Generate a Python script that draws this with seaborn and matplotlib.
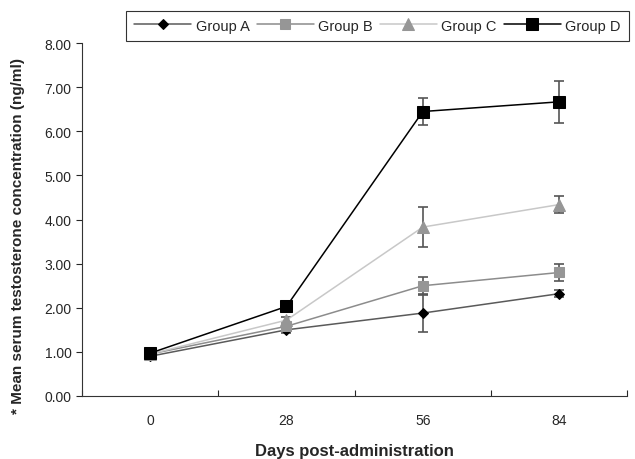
import matplotlib

matplotlib.use("Agg")
import matplotlib.pyplot as plt
import numpy as np
import pandas as pd
import seaborn as sns

days = ["0", "28", "56", "84"]
groups = ["Group A", "Group B", "Group C", "Group D"]

group_a = [0.90, 1.50, 1.88, 2.32]
group_b = [0.95, 1.58, 2.50, 2.80]
group_c = [0.95, 1.72, 3.83, 4.34]
group_d = [0.97, 2.03, 6.45, 6.67]

err_a = [0.05, 0.08, 0.44, 0.08]
err_b = [0.05, 0.06, 0.20, 0.19]
err_c = [0.05, 0.06, 0.46, 0.20]
err_d = [0.05, 0.05, 0.30, 0.48]


def main():
    sns.set_style("ticks")
    plt.rcParams["font.family"] = ["Liberation Sans", "DejaVu Sans"]

    values = [group_a, group_b, group_c, group_d]
    errors = [err_a, err_b, err_c, err_d]
    rows = []
    for g, vals, errs in zip(groups, values, errors):
        for i, (v, e) in enumerate(zip(vals, errs)):
            rows.append({"Group": g, "pos": i, "Day": days[i], "value": v, "err": e})
    df = pd.DataFrame(rows)

    line_colors = {"Group A": "#5a5a5a", "Group B": "#8c8c8c", "Group C": "#c8c8c8", "Group D": "#000000"}
    marker_colors = {"Group A": "#000000", "Group B": "#969696", "Group C": "#969696", "Group D": "#000000"}
    markers = {"Group A": "D", "Group B": "s", "Group C": "^", "Group D": "s"}
    msizes = {"Group A": 5.5, "Group B": 7, "Group C": 8, "Group D": 8.5}

    fig = plt.figure(figsize=(6.35, 4.6), dpi=100)
    ax = fig.add_axes([0.129, 0.137, 0.859, 0.767])

    for g in groups:
        sub = df[df["Group"] == g]
        ax.errorbar(sub["pos"], sub["value"], yerr=sub["err"], fmt="none",
                    ecolor="#555555", elinewidth=1.2, capsize=3.6, capthick=1.2, zorder=2)
        sns.lineplot(data=sub, x="pos", y="value", ax=ax, color=line_colors[g],
                     linewidth=1.1, marker=markers[g], markersize=msizes[g],
                     markerfacecolor=marker_colors[g], markeredgecolor=marker_colors[g],
                     label=g, zorder=3)

    ax.set_xlim(-0.5, 3.5)
    ax.set_ylim(0, 8)
    ax.set_xticks(np.arange(-0.5, 3.6, 1.0))
    ax.set_xticklabels([])
    ax.set_xticks(np.arange(4), minor=True)
    ax.set_xticklabels(days, minor=True)
    ax.tick_params(axis="x", which="minor", length=0, pad=12, labelsize=10)
    ax.tick_params(axis="x", which="major", length=4, width=0.8, direction="in")
    ax.set_yticks(np.arange(0, 8.01, 1.0))
    ax.set_yticklabels([f"{v:.2f}" for v in np.arange(0, 8.01, 1.0)])
    ax.tick_params(axis="y", length=4, width=0.8, labelsize=10)
    for s in ["left", "bottom"]:
        ax.spines[s].set_linewidth(0.8)
        ax.spines[s].set_color("#333333")
    sns.despine(ax=ax)

    ax.set_xlabel("Days post-administration", fontsize=12, fontweight="bold")
    ax.xaxis.set_label_coords(0.5, -0.132)
    ax.set_ylabel("* Mean serum testosterone concentration (ng/ml)", fontsize=11,
                  fontweight="bold")
    ax.yaxis.set_label_coords(-0.105, 0.455)

    handles, labels = ax.get_legend_handles_labels()
    ax.get_legend().remove()
    leg = fig.legend(handles, labels, loc="upper right", bbox_to_anchor=(0.99, 0.975),
                     ncol=4, frameon=True, fancybox=False, edgecolor="black",
                     fontsize=10.5, handlelength=3.9, handletextpad=0.3,
                     columnspacing=0.5, borderpad=0.55, borderaxespad=0)
    leg.get_frame().set_linewidth(0.8)

    fig.savefig("out.png", dpi=100)
    plt.close(fig)


if __name__ == "__main__":
    main()
